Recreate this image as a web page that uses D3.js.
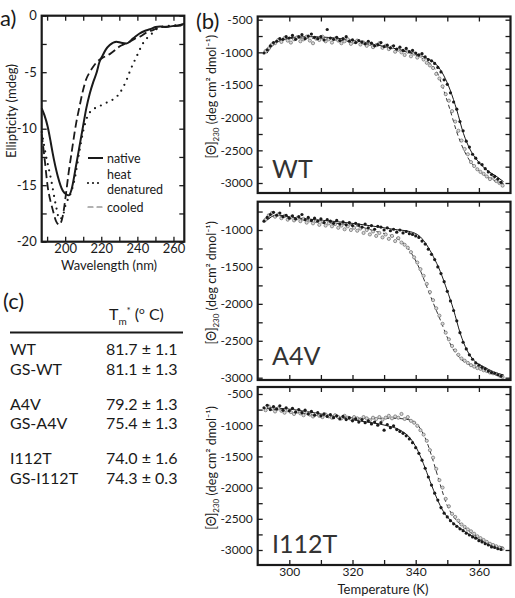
<!DOCTYPE html>
<html>
<head>
<meta charset="utf-8">
<script src="https://d3js.org/d3.v7.min.js"></script>
<style>
body { margin: 0; background: #fff; }
svg { display: block; font-family: Lato, "Open Sans", sans-serif; }
</style>
</head>
<body>
<svg id="fig" width="515" height="598"></svg>
<script>
"use strict";

//Panel (a): CD spectra, [wavelength nm, ellipticity mdeg]
var cdNative = [[187,-8.2],[188.5,-8.8],[190.3,-9.8],[192,-11.2],[193,-12.1],[195.9,-14.2],[198.7,-15.5],[200.5,-15.8],
  [202,-15.9],[203.5,-15.4],[206,-13.3],[208,-11.5],[209.9,-9.8],[211.7,-8.2],[213.6,-6.9],[215.5,-5.9],[217.3,-5.1],
  [219,-4.1],[220.5,-3.6],[222.5,-3.0],[224.7,-2.6],[228.4,-2.3],[231,-2.4],[234,-2.45],[237.7,-2.0],[241,-1.6],
  [244,-1.35],[247,-1.2],[250,-1.0],[252.6,-0.95],[256,-1.0],[260,-0.9],[263,-0.85],[266,-0.7]];
var cdHeat = [[187,-10.3],[189.4,-12.4],[192.2,-14.5],[195,-16.9],[196.8,-18.0],[198.5,-17.8],[200.5,-16.6],[202.4,-16.0],
  [205.2,-14.5],[208,-11.9],[210,-10.2],[211.7,-9.2],[213.5,-8.6],[215.4,-8.3],[219.1,-8.0],[222.9,-7.7],[227.5,-7.3],
  [230,-6.9],[232.2,-6.3],[234,-5.7],[235.9,-4.9],[239.6,-3.6],[243.3,-2.4],[248,-1.6],[252.6,-1.0],[258,-0.9],[266,-0.8]];
var cdCooled = [[187,-10.5],[188.5,-12.5],[190.3,-15.1],[192,-16.5],[193,-17.1],[195,-18.2],[196.8,-18.5],[198.7,-17.7],
  [200.5,-15.7],[202,-13.8],[203.3,-12.4],[206.1,-9.5],[208,-8.0],[209.9,-6.6],[211.7,-5.6],[213.6,-5.0],[216,-4.4],
  [218.2,-4.0],[221,-3.7],[224.7,-3.4],[228,-3.0],[230.3,-2.7],[233,-2.5],[235.9,-2.3],[238.5,-2.05],[241.4,-1.85],
  [245,-1.5],[248.9,-1.26],[252.6,-1.0],[258,-0.95],[266,-0.85]];
var cdLegend = ["native", "heat|denatured", "cooled"];
var cdTicksX = [200, 220, 240, 260];
var cdTicksY = [0, -5, -10, -15, -20];

//Panel (b): thermal melts, values in deg cm2 dmol-1
var temps = [292,293,294,295,296,297,298,299,300,301,302,303,304,305,306,307,308,309,310,311,312,313,314,315,316,317,318,319,
  320,321,322,323,324,325,326,327,328,329,330,331,332,333,334,335,336,337,338,339,340,341,342,343,344,345,346,347,348,349,
  350,351,352,353,354,355,356,357,358,359,360,361,362,363,364,365,366,367];

var wtDots = [-1010,-960,-900,-850,-830,-790,-800,-760,-780,-740,-800,-760,-730,-790,-750,-720,-770,-790,-760,-810,
  -650,-780,-800,-770,-820,-790,-760,-830,-810,-850,-820,-840,-870,-830,-860,-900,-880,-850,-910,-890,-930,-900,-950,
  -920,-970,-940,-990,-970,-1010,-1040,-1020,-1070,-1110,-1130,-1170,-1230,-1300,-1420,-1490,-1620,-1760,-1870,-2060,
  -2200,-2360,-2450,-2560,-2620,-2690,-2720,-2780,-2830,-2870,-2900,-2940,-2990];
var wtOpen = [-980,-940,-880,-860,-810,-840,-780,-820,-850,-800,-770,-830,-800,-760,-820,-860,-790,-810,-760,-830,
  -800,-850,-790,-820,-860,-830,-800,-870,-840,-820,-880,-850,-900,-870,-920,-890,-860,-930,-900,-950,-920,-990,-960,
  -1000,-1040,-990,-1060,-1020,-1080,-1050,-1110,-1160,-1200,-1240,-1330,-1400,-1520,-1640,-1740,-1900,-2060,-2200,
  -2350,-2480,-2560,-2680,-2740,-2790,-2830,-2860,-2900,-2940,-2920,-2970,-3000,-3040];
var wtFit = [[292.9,-1015],[296,-836],[301.3,-770],[306.6,-760],[311.9,-770],[317.2,-795],[322.4,-836],[327.7,-887],
  [333,-938],[338.3,-1000],[343.5,-1091],[346.7,-1194],[348.8,-1347],[350.9,-1576],[353,-1883],[355.1,-2240],
  [357.3,-2495],[359.4,-2648],[362.5,-2801],[365.7,-2904],[367.8,-2980]];
var wtFitGS = [[292.9,-980],[296,-850],[300,-790],[305,-780],[310,-790],[315,-810],[320,-840],[325,-880],[330,-920],
  [335,-970],[340,-1040],[343,-1120],[345,-1190],[347,-1330],[349,-1600],[351,-1900],[353,-2220],[355,-2470],
  [357,-2650],[360,-2810],[363,-2920],[367.8,-3010]];

var a4vDots = [-880,-830,-790,-760,-800,-770,-820,-800,-840,-810,-850,-820,-790,-860,-830,-870,-840,-880,-850,-900,
  -860,-880,-910,-870,-920,-890,-930,-900,-940,-910,-930,-960,-920,-970,-940,-990,-950,-960,-1000,-970,-1010,-990,
  -1030,-1000,-1040,-1020,-1050,-1060,-1080,-1100,-1150,-1190,-1260,-1330,-1400,-1500,-1590,-1700,-1830,-1960,-2090,
  -2230,-2390,-2520,-2610,-2690,-2750,-2800,-2830,-2860,-2880,-2910,-2930,-2940,-2960,-2980];
var a4vOpen = [-860,-800,-770,-820,-790,-840,-810,-860,-830,-870,-840,-880,-850,-900,-870,-910,-880,-930,-890,-940,
  -910,-950,-920,-970,-940,-990,-950,-1000,-970,-1010,-980,-1040,-1000,-1060,-1020,-1080,-1040,-1100,-1060,-1120,
  -1080,-1150,-1110,-1170,-1200,-1240,-1300,-1370,-1440,-1530,-1620,-1730,-1840,-1950,-2060,-2160,-2270,-2390,-2480,
  -2570,-2630,-2690,-2740,-2770,-2800,-2830,-2850,-2870,-2880,-2900,-2910,-2930,-2940,-2950,-2970,-2990];
var a4vFit = [[292.9,-865],[296,-797],[301.3,-830],[306.6,-856],[311.9,-874],[317.2,-896],[322.4,-923],[327.7,-955],
  [333,-991],[338.3,-1023],[341.4,-1090],[343.5,-1203],[345.6,-1361],[347.8,-1564],[349.9,-1812],[352,-2083],
  [354.1,-2400],[356.2,-2625],[358.3,-2761],[361.5,-2851],[364.6,-2919],[367.8,-2964]];
var a4vFitGS = [[292.9,-865],[296,-805],[300,-830],[310,-890],[322.4,-955],[327.7,-1023],[333,-1090],[336.2,-1180],
  [339.3,-1361],[341.4,-1542],[343.5,-1767],[345.6,-1993],[347.8,-2219],[349.9,-2445],[352,-2625],[354.1,-2738],
  [357.3,-2829],[361.5,-2896],[367.8,-2964]];

var i112tDots = [-720,-680,-750,-700,-740,-690,-760,-720,-770,-730,-790,-750,-800,-760,-820,-780,-840,-800,-850,-820,
  -860,-830,-880,-850,-900,-860,-910,-880,-930,-900,-950,-910,-960,-930,-980,-950,-1000,-960,-1080,-990,-1040,-1010,
  -1070,-1100,-1130,-1170,-1220,-1280,-1360,-1450,-1560,-1690,-1830,-1960,-2090,-2200,-2320,-2410,-2470,-2530,-2580,
  -2620,-2660,-2690,-2730,-2760,-2790,-2810,-2850,-2870,-2900,-2920,-2950,-2960,-2980,-2990];
var i112tOpen = [-760,-700,-740,-780,-730,-770,-800,-760,-790,-820,-780,-810,-840,-800,-830,-860,-820,-850,-870,-830,
  -860,-880,-840,-870,-890,-850,-880,-900,-870,-890,-910,-870,-890,-920,-880,-900,-870,-910,-880,-850,-890,-860,-880,
  -820,-900,-870,-930,-960,-1010,-1080,-1150,-1250,-1400,-1520,-1700,-1880,-2000,-2180,-2300,-2420,-2470,-2530,-2590,
  -2630,-2670,-2700,-2740,-2780,-2810,-2840,-2870,-2900,-2920,-2940,-2960,-2980];
var i112tFit = [[292.9,-715],[301.3,-750],[311.9,-837],[322.4,-933],[330.8,-1007],[335,-1077],[338.3,-1210],
  [340.3,-1370],[342.4,-1611],[344.6,-1905],[346.7,-2172],[348.8,-2386],[350.9,-2519],[354.1,-2653],[357.3,-2760],
  [360.4,-2840],[364.6,-2947],[367.8,-2973]];
var i112tFitGS = [[292.9,-730],[301.3,-790],[311.9,-850],[322.4,-889],[333,-889],[338.3,-917],[341.4,-1050],
  [343.5,-1264],[345.6,-1585],[347.8,-1958],[349.9,-2279],[352,-2466],[355.1,-2626],[359.4,-2787],[364.6,-2920],
  [367.8,-2957]];

var meltNames = ["WT", "A4V", "I112T"];
var meltTicksX = [300, 320, 340, 360];

//Panel (c): table of melting temperatures
var tableNames = ["WT", "GS-WT", "A4V", "GS-A4V", "I112T", "GS-I112T"];
var tableTm = ["81.7 \u00b1 1.1", "81.1 \u00b1 1.3", "79.2 \u00b1 1.3", "75.4 \u00b1 1.3", "74.0 \u00b1 1.6", "74.3 \u00b1 0.3"];

var svg = d3.select("#fig");
var ink = "#1a1a1a";

//Small helper: draw frame + inward ticks on all four sides
function frame(g, x, y, xt, yt, xLabels, yLabels, fs) {
  var x0 = x.range()[0], x1 = x.range()[1], y0 = y.range()[0], y1 = y.range()[1];
  g.append("g").attr("transform", "translate(0," + y0 + ")")
    .call(d3.axisBottom(x).tickValues(xt).tickSize(-5).tickSizeOuter(0).tickPadding(2)
      .tickFormat(function(d) { return xLabels.indexOf(d) >= 0 ? d : ""; }))
    .call(function(s) { s.select(".domain").remove(); });
  g.append("g").attr("transform", "translate(0," + y1 + ")")
    .call(d3.axisTop(x).tickValues(xt).tickSize(-5).tickSizeOuter(0).tickFormat(""))
    .call(function(s) { s.select(".domain").remove(); });
  g.append("g").attr("transform", "translate(" + x0 + ",0)")
    .call(d3.axisLeft(y).tickValues(yt).tickSize(-5).tickSizeOuter(0).tickPadding(5)
      .tickFormat(function(d) { return yLabels.indexOf(d) >= 0 ? d : ""; }))
    .call(function(s) { s.select(".domain").remove(); });
  g.append("g").attr("transform", "translate(" + x1 + ",0)")
    .call(d3.axisRight(y).tickValues(yt).tickSize(-5).tickSizeOuter(0).tickFormat(""))
    .call(function(s) { s.select(".domain").remove(); });
  g.selectAll(".tick line").attr("stroke", ink).attr("stroke-width", 1.3);
  g.selectAll(".tick text").attr("fill", ink).attr("font-size", fs).attr("font-family", "Lato, sans-serif");
  g.append("rect").attr("x", x0).attr("y", y1).attr("width", x1 - x0).attr("height", y0 - y1)
    .attr("fill", "none").attr("stroke", ink).attr("stroke-width", 2.2);
}

//---------- (a) ----------
var xa = d3.scaleLinear().domain([187, 266]).range([41.7, 184.3]);
var ya = d3.scaleLinear().domain([-20, 0]).range([241.7, 15.7]);
var ga = svg.append("g");
frame(ga, xa, ya, d3.range(190, 266, 10), d3.range(-20, 0.1, 2.5), cdTicksX, cdTicksY, 13);

var lineA = d3.line().x(function(d) { return xa(d[0]); }).y(function(d) { return ya(d[1]); })
  .curve(d3.curveMonotoneX);
ga.append("path").attr("d", lineA(cdNative)).attr("fill", "none").attr("stroke", ink).attr("stroke-width", 2);
ga.append("path").attr("d", lineA(cdHeat)).attr("fill", "none").attr("stroke", ink).attr("stroke-width", 2.2)
  .attr("stroke-linecap", "round").attr("stroke-dasharray", "0 6.5");
ga.append("path").attr("d", lineA(cdCooled)).attr("fill", "none").attr("stroke", ink).attr("stroke-width", 1.8)
  .attr("stroke-dasharray", "8 4");

//legend
var legStyle = [{dash: null, w: 2, col: ink}, {dash: "0 5", w: 2.2, col: ink}, {dash: "5 4", w: 1.2, col: "#666"}];
var legY = [158, 183, 207];
cdLegend.forEach(function(name, i) {
  ga.append("line").attr("x1", 88).attr("x2", 103).attr("y1", legY[i]).attr("y2", legY[i])
    .attr("stroke", legStyle[i].col).attr("stroke-width", legStyle[i].w)
    .attr("stroke-linecap", legStyle[i].dash ? "round" : "butt")
    .attr("stroke-dasharray", legStyle[i].dash);
  var parts = name.split("|");
  var t = ga.append("text").attr("x", 107).attr("font-size", 12.5).attr("fill", ink);
  if (parts.length == 1) {
    t.attr("y", legY[i] + 4.5).text(parts[0]);
  } else {
    //two lines: stacked with tspans so they stay one text block
    t.attr("y", legY[i] - 4);
    t.append("tspan").attr("x", 107).text(parts[0]);
    t.append("tspan").attr("x", 107).attr("dy", 15).text(parts[1]);
  }
});

ga.append("text").attr("transform", "translate(16,111) rotate(-90)").attr("text-anchor", "middle")
  .attr("font-size", 13).attr("fill", ink).text("Ellipticity (mdeg)");
ga.append("text").attr("x", 109).attr("y", 270).attr("text-anchor", "middle")
  .attr("font-size", 13).attr("fill", ink).text("Wavelength (nm)");
svg.append("text").attr("x", 0).attr("y", 26).attr("font-size", 22).attr("fill", ink).text("a)");

//---------- (b) ----------
var xb = d3.scaleLinear().domain([290, 370]).range([257.7, 510.5]);
var meltSets = [
  {dots: wtDots, open: wtOpen, fit: wtFit, fitGS: wtFitGS},
  {dots: a4vDots, open: a4vOpen, fit: a4vFit, fitGS: a4vFitGS},
  {dots: i112tDots, open: i112tOpen, fit: i112tFit, fitGS: i112tFitGS}
];
//frame top/bottom and the pixel position of two labelled values for each panel
var meltLayout = [
  {top: 16.5, bottom: 193, v0: -500, p0: 19.7, v1: -3000, p1: 183, nameY: 178},
  {top: 201.7, bottom: 380, v0: -1000, p0: 230, v1: -3000, p1: 377.7, nameY: 365},
  {top: 387, bottom: 565, v0: -500, p0: 394, v1: -3000, p1: 550, nameY: 553}
];

meltSets.forEach(function(set, i) {
  var L = meltLayout[i];
  var yb = d3.scaleLinear().domain([L.v0, L.v1]).range([L.p0, L.p1]);
  yb.domain([yb.invert(L.bottom), yb.invert(L.top)]).range([L.bottom, L.top]);
  var g = svg.append("g");
  var yt = d3.range(-3000, 0, 250).filter(function(v) { return yb(v) <= L.bottom - 1 && yb(v) >= L.top + 1; });
  var yl = yt.filter(function(v) { return v % 500 == 0; });
  frame(g, xb, yb, d3.range(300, 370, 10), yt, i == 2 ? meltTicksX : [], yl, 12);

  var lineB = d3.line().x(function(d) { return xb(d[0]); }).y(function(d) { return yb(d[1]); })
    .curve(d3.curveMonotoneX);
  g.append("path").attr("d", lineB(set.fitGS)).attr("fill", "none").attr("stroke", "#333")
    .attr("stroke-width", 1).attr("stroke-dasharray", "4 3");
  g.append("path").attr("d", lineB(set.fit)).attr("fill", "none").attr("stroke", ink).attr("stroke-width", 1);

  g.append("g").selectAll("circle").data(set.open).enter().append("circle")
    .attr("cx", function(d, k) { return xb(temps[k] + 0.5); })
    .attr("cy", function(d) { return yb(d); })
    .attr("r", 1.6).attr("fill", "#d8d8d8").attr("stroke", "#555").attr("stroke-width", 0.6);
  g.append("g").selectAll("circle").data(set.dots).enter().append("circle")
    .attr("cx", function(d, k) { return xb(temps[k]); })
    .attr("cy", function(d) { return yb(d); })
    .attr("r", 1.6).attr("fill", ink);

  g.append("text").attr("x", 272).attr("y", L.nameY).attr("font-size", 25).attr("fill", "#333")
    .text(meltNames[i]);

  //rotated y label
  var lab = g.append("text").attr("text-anchor", "middle").attr("font-size", 12.5).attr("fill", ink)
    .attr("transform", "translate(216," + ((L.top + L.bottom) / 2 - 8) + ") rotate(-90)");
  lab.append("tspan").text("[\u0398]");
  lab.append("tspan").attr("font-size", 8).attr("dy", 3).text("230");
  lab.append("tspan").attr("dy", -3).text("  (deg cm\u00b2 dmol\u207b\u00b9)");
});

svg.append("text").attr("x", 383).attr("y", 594).attr("text-anchor", "middle").attr("font-size", 13)
  .attr("fill", ink).text("Temperature (K)");
svg.append("text").attr("x", 196).attr("y", 29).attr("font-size", 22).attr("fill", ink).text("(b)");

//---------- (c) ----------
var gc = svg.append("g").attr("font-size", 16).attr("fill", ink);
svg.append("text").attr("x", 3).attr("y", 309).attr("font-size", 22).attr("fill", ink).text("(c)");
var head = gc.append("text").attr("x", 109).attr("y", 320);
head.append("tspan").text("T");
head.append("tspan").attr("font-size", 10).attr("dy", 5).text("m");
head.append("tspan").attr("font-size", 10).attr("dy", -11).text("*");
head.append("tspan").attr("dy", 6).text(" (");
head.append("tspan").attr("font-size", 10).attr("dy", -6).text("o");
head.append("tspan").attr("dy", 6).text(" C)");
gc.append("line").attr("x1", 10).attr("x2", 183).attr("y1", 332.5).attr("y2", 332.5)
  .attr("stroke", ink).attr("stroke-width", 2);
tableNames.forEach(function(name, i) {
  var yy = 355 + Math.floor(i / 2) * 54.5 + (i % 2) * 19.5;
  gc.append("text").attr("x", 10).attr("y", yy).text(name);
  gc.append("text").attr("x", 106).attr("y", yy).text(tableTm[i]);
});
</script>
</body>
</html>
